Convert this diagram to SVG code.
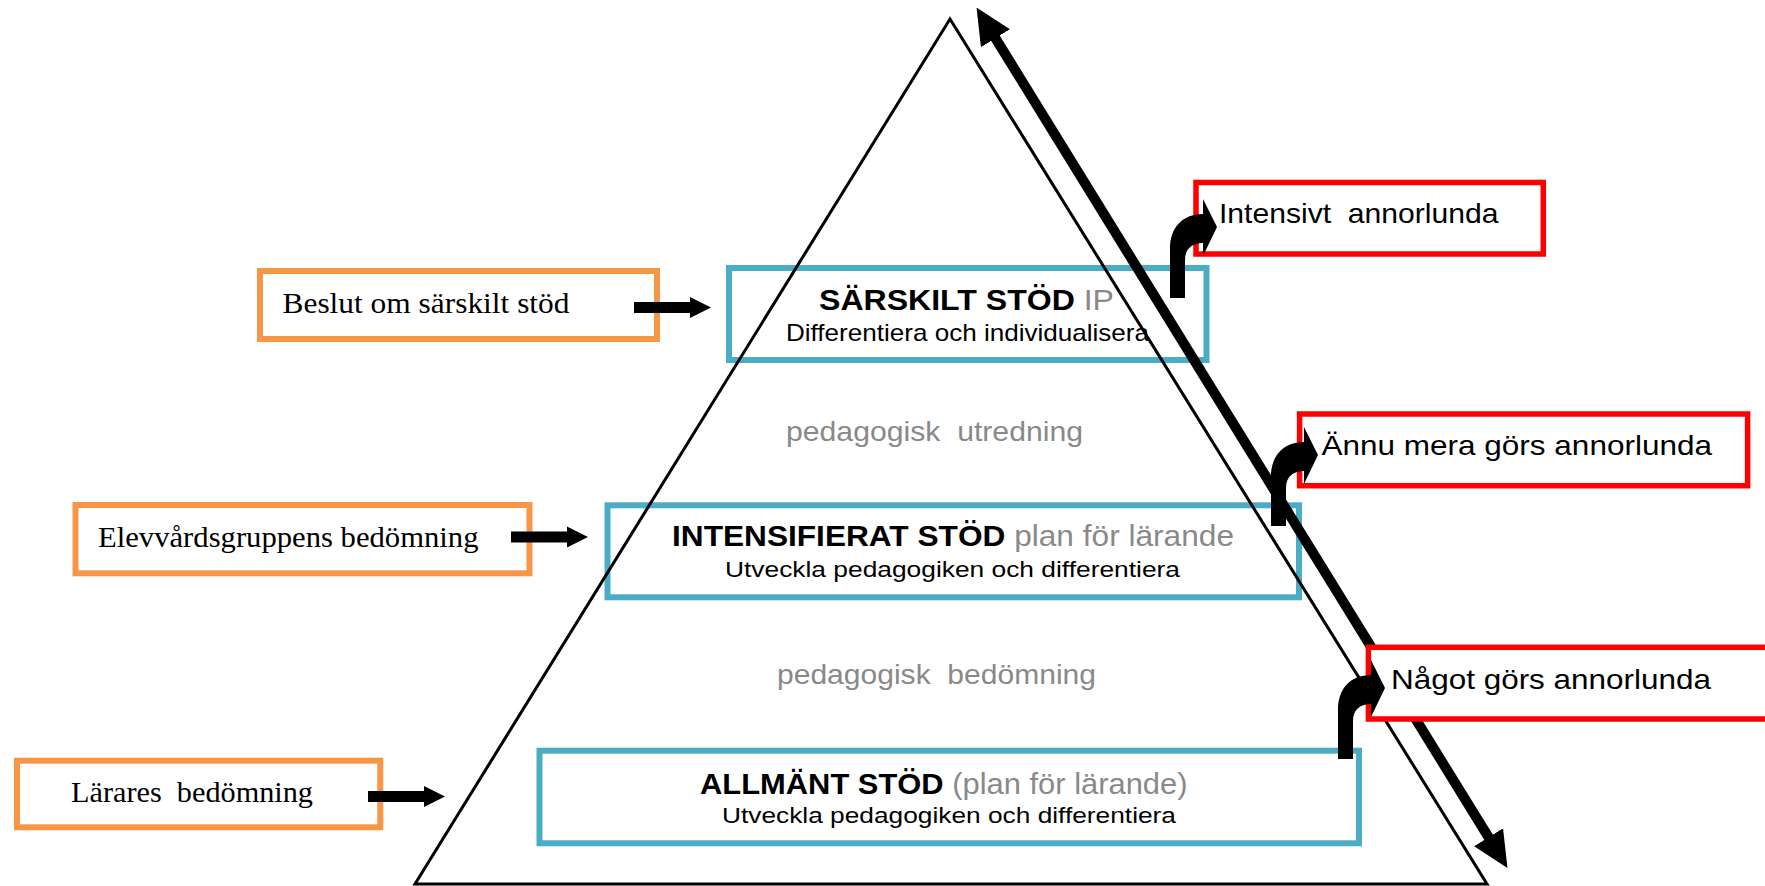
<svg xmlns="http://www.w3.org/2000/svg" width="1765" height="886" viewBox="0 0 1765 886">
<style>
.blue{fill:none;stroke:#4BACC6;stroke-width:6}
.orange{fill:#fff;stroke:#F79646;stroke-width:6}
.red{fill:#fff;stroke:#FF0000;stroke-width:5.5}
.sans{font-family:"Liberation Sans",Arial,sans-serif;fill:#000}
.serif{font-family:"Liberation Serif","Times New Roman",serif;fill:#000;font-size:30px}
.b{font-weight:bold}
.g{fill:#898989;font-weight:normal}
.blk{fill:#000}
</style>
<defs>
<marker id="head" markerUnits="userSpaceOnUse" markerWidth="36" markerHeight="34" refX="5" refY="17" orient="auto-start-reverse" viewBox="0 0 36 34">
<path d="M0,0 L36,17 L0,34 Z" fill="#000"/>
</marker>
<path id="bent" d="M0,71 L0,22 C0,1 12,-13 33,-13 L33,-28 L47,0 L33,29 L33,16 C23,16 15,21 15,33 L15,71 Z"/>
<path id="block" d="M0,-5.5 L56,-5.5 L56,-10.5 L77,0 L56,10.5 L56,5.5 L0,5.5 Z"/>
</defs>
<rect width="1765" height="886" fill="#fff"/>

<g id="sarskilt-stod">
<rect class="blue" x="729" y="268" width="477.5" height="92"/>
<text class="sans" x="819" y="309.5" font-size="29.5" textLength="295" lengthAdjust="spacingAndGlyphs"><tspan class="b">SÄRSKILT STÖD</tspan><tspan class="g"> IP</tspan></text>
<text class="sans" x="786" y="340.7" font-size="24" textLength="363" lengthAdjust="spacingAndGlyphs">Differentiera och individualisera</text>
</g>

<g id="intensifierat-stod">
<rect class="blue" x="607.5" y="505.3" width="691.5" height="92"/>
<text class="sans" x="672" y="546" font-size="29.5" textLength="562" lengthAdjust="spacingAndGlyphs"><tspan class="b">INTENSIFIERAT STÖD</tspan><tspan class="g"> plan för lärande</tspan></text>
<text class="sans" x="725" y="577" font-size="22.5" textLength="455" lengthAdjust="spacingAndGlyphs">Utveckla pedagogiken och differentiera</text>
</g>

<g id="allmant-stod">
<rect class="blue" x="539.5" y="750.7" width="819.5" height="92.6"/>
<text class="sans" x="700" y="794" font-size="30" textLength="487.5" lengthAdjust="spacingAndGlyphs"><tspan class="b">ALLMÄNT STÖD</tspan><tspan class="g"> (plan för lärande)</tspan></text>
<text class="sans" x="722" y="822.7" font-size="22.5" textLength="454" lengthAdjust="spacingAndGlyphs">Utveckla pedagogiken och differentiera</text>
</g>

<g id="pyramid">
<polygon points="950,19 1487,884 415,884" fill="none" stroke="#000" stroke-width="3" stroke-linejoin="miter"/>
</g>

<g id="pedagogisk-utredning">
<text class="sans g" x="786" y="441" font-size="28" textLength="297" lengthAdjust="spacingAndGlyphs" xml:space="preserve">pedagogisk  utredning</text>
</g>

<g id="pedagogisk-bedomning">
<text class="sans g" x="777" y="683.5" font-size="28" textLength="319" lengthAdjust="spacingAndGlyphs" xml:space="preserve">pedagogisk  bedömning</text>
</g>

<g id="beslut">
<rect class="orange" x="260" y="271" width="397" height="68"/>
<text class="serif" x="282.5" y="313.3" textLength="287" lengthAdjust="spacingAndGlyphs">Beslut om särskilt stöd</text>
</g>

<g id="elevvardsgruppen">
<rect class="orange" x="75.5" y="505" width="454" height="68.3"/>
<text class="serif" x="98" y="546.7" textLength="380.5" lengthAdjust="spacingAndGlyphs">Elevvårdsgruppens bedömning</text>
</g>

<g id="larares-bedomning">
<rect class="orange" x="17" y="760.7" width="363.3" height="66.6"/>
<text class="serif" x="71" y="802.3" textLength="242" lengthAdjust="spacingAndGlyphs" xml:space="preserve">Lärares  bedömning</text>
</g>

<g id="axis-connector">
<line x1="992.8" y1="34" x2="1491.2" y2="841.5" stroke="#000" stroke-width="10" marker-start="url(#head)" marker-end="url(#head)"/>
</g>

<g id="intensivt-annorlunda">
<rect class="red" x="1196" y="182.5" width="347.3" height="71.5"/>
<text class="sans" x="1219" y="222.7" font-size="28.5" textLength="279.5" lengthAdjust="spacingAndGlyphs" xml:space="preserve">Intensivt  annorlunda</text>
</g>

<g id="annu-mera">
<rect class="red" x="1299.6" y="414" width="448" height="71.7"/>
<text class="sans" x="1321.5" y="455" font-size="28.5" textLength="390.5" lengthAdjust="spacingAndGlyphs">Ännu mera görs annorlunda</text>
</g>

<g id="nagot">
<rect class="red" x="1368.4" y="647.3" width="420" height="71.7"/>
<text class="sans" x="1391" y="689.3" font-size="28.5" textLength="320" lengthAdjust="spacingAndGlyphs">Något görs annorlunda</text>
</g>

<g id="connectors">
<use href="#bent" class="blk" transform="translate(1170,227)"/>
<use href="#bent" class="blk" transform="translate(1271,455)"/>
<use href="#bent" class="blk" transform="translate(1338,688)"/>
<use href="#block" class="blk" transform="translate(634,307.5)"/>
<use href="#block" class="blk" transform="translate(511,537)"/>
<use href="#block" class="blk" transform="translate(368,796.5)"/>
</g>
</svg>
